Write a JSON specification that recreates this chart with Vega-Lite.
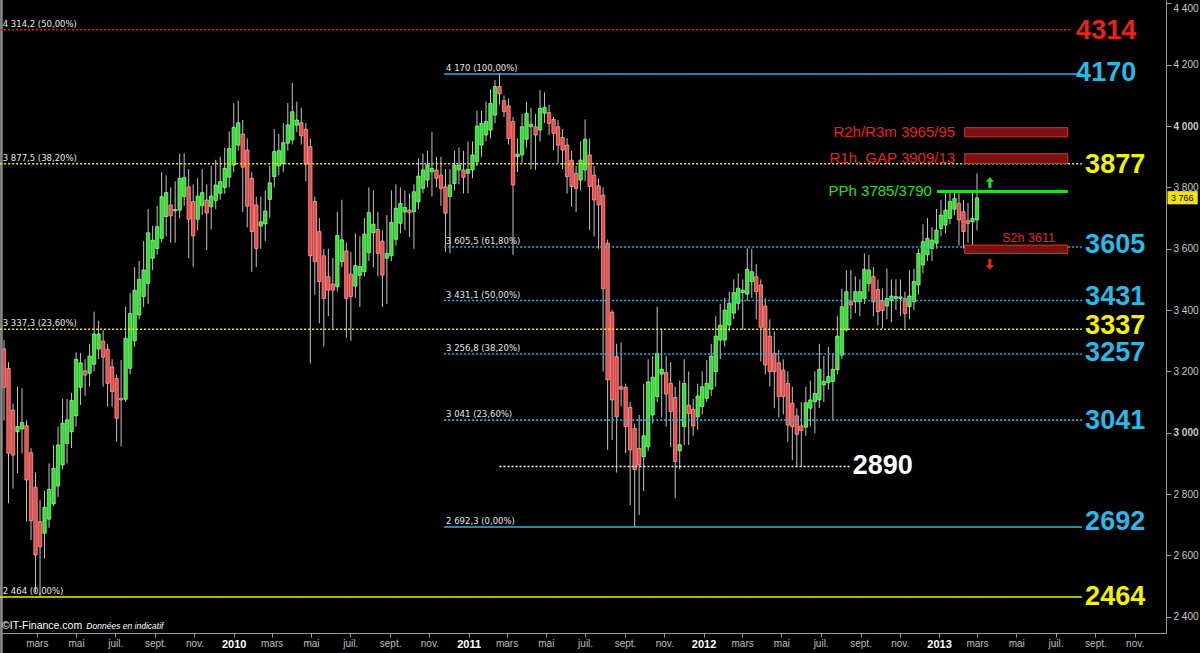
{
"$schema": "https://vega.github.io/schema/vega-lite/v6.json",
"width": 1166, "height": 633,
"autosize": {"type": "none"},
"padding": {"left": 0, "top": 0, "right": 34, "bottom": 20},
"background": "#000000",
"config": {"view": {"stroke": null}, "font": "Liberation Sans"},
"datasets": {
"candles": [
{"d":"2009-01-09","o":3273,"h":3302,"l":3040,"c":3148},
{"d":"2009-01-16","o":3210,"h":3230,"l":2770,"c":2933},
{"d":"2009-01-23","o":3074,"h":3096,"l":2818,"c":2927},
{"d":"2009-01-30","o":3003,"h":3150,"l":2868,"c":3020},
{"d":"2009-02-06","o":3012,"h":3145,"l":2933,"c":3033},
{"d":"2009-02-13","o":3023,"h":3040,"l":2710,"c":2846},
{"d":"2009-02-20","o":2935,"h":2950,"l":2650,"c":2713},
{"d":"2009-02-27","o":2822,"h":2870,"l":2480,"c":2601},
{"d":"2009-03-06","o":2710,"h":2780,"l":2465,"c":2628},
{"d":"2009-03-13","o":2672,"h":2810,"l":2590,"c":2757},
{"d":"2009-03-20","o":2718,"h":2900,"l":2690,"c":2815},
{"d":"2009-03-27","o":2768,"h":2960,"l":2760,"c":2884},
{"d":"2009-04-03","o":2826,"h":3020,"l":2790,"c":2960},
{"d":"2009-04-10","o":2895,"h":3110,"l":2880,"c":3031},
{"d":"2009-04-17","o":2965,"h":3110,"l":2900,"c":3042},
{"d":"2009-04-24","o":3003,"h":3130,"l":2950,"c":3105},
{"d":"2009-05-01","o":3055,"h":3262,"l":3020,"c":3239},
{"d":"2009-05-08","o":3148,"h":3260,"l":3090,"c":3228},
{"d":"2009-05-15","o":3202,"h":3240,"l":3120,"c":3188},
{"d":"2009-05-22","o":3194,"h":3290,"l":3150,"c":3250},
{"d":"2009-05-29","o":3223,"h":3395,"l":3200,"c":3322},
{"d":"2009-06-05","o":3273,"h":3365,"l":3240,"c":3322},
{"d":"2009-06-12","o":3299,"h":3335,"l":3150,"c":3246},
{"d":"2009-06-19","o":3272,"h":3290,"l":3085,"c":3161},
{"d":"2009-06-26","o":3215,"h":3240,"l":3085,"c":3134},
{"d":"2009-07-03","o":3177,"h":3190,"l":2971,"c":3047},
{"d":"2009-07-10","o":3112,"h":3237,"l":2955,"c":3107},
{"d":"2009-07-17","o":3109,"h":3411,"l":3100,"c":3308},
{"d":"2009-07-24","o":3210,"h":3455,"l":3190,"c":3389},
{"d":"2009-07-31","o":3300,"h":3540,"l":3280,"c":3465},
{"d":"2009-08-07","o":3384,"h":3560,"l":3370,"c":3500},
{"d":"2009-08-14","o":3444,"h":3625,"l":3410,"c":3531},
{"d":"2009-08-21","o":3487,"h":3730,"l":3420,"c":3652},
{"d":"2009-08-28","o":3569,"h":3675,"l":3530,"c":3628},
{"d":"2009-09-04","o":3601,"h":3740,"l":3580,"c":3672},
{"d":"2009-09-11","o":3634,"h":3850,"l":3620,"c":3770},
{"d":"2009-09-18","o":3705,"h":3840,"l":3640,"c":3783},
{"d":"2009-09-25","o":3743,"h":3800,"l":3620,"c":3707},
{"d":"2009-10-02","o":3724,"h":3820,"l":3620,"c":3728},
{"d":"2009-10-09","o":3726,"h":3910,"l":3700,"c":3830},
{"d":"2009-10-16","o":3770,"h":3911,"l":3740,"c":3832},
{"d":"2009-10-23","o":3802,"h":3860,"l":3569,"c":3696},
{"d":"2009-10-30","o":3754,"h":3810,"l":3541,"c":3642},
{"d":"2009-11-06","o":3696,"h":3830,"l":3660,"c":3772},
{"d":"2009-11-13","o":3740,"h":3860,"l":3710,"c":3783},
{"d":"2009-11-20","o":3759,"h":3810,"l":3596,"c":3717},
{"d":"2009-11-27","o":3737,"h":3870,"l":3663,"c":3772},
{"d":"2009-12-04","o":3757,"h":3890,"l":3730,"c":3808},
{"d":"2009-12-11","o":3781,"h":3900,"l":3760,"c":3819},
{"d":"2009-12-18","o":3800,"h":3930,"l":3780,"c":3862},
{"d":"2009-12-25","o":3833,"h":3983,"l":3800,"c":3927},
{"d":"2010-01-01","o":3873,"h":4075,"l":3850,"c":3996},
{"d":"2010-01-08","o":3938,"h":4083,"l":3920,"c":4011},
{"d":"2010-01-15","o":3974,"h":4020,"l":3720,"c":3866},
{"d":"2010-01-22","o":3922,"h":3960,"l":3670,"c":3739},
{"d":"2010-01-29","o":3830,"h":3850,"l":3525,"c":3656},
{"d":"2010-02-05","o":3743,"h":3770,"l":3540,"c":3601},
{"d":"2010-02-12","o":3674,"h":3770,"l":3600,"c":3688},
{"d":"2010-02-19","o":3681,"h":3790,"l":3625,"c":3723},
{"d":"2010-02-26","o":3761,"h":3870,"l":3700,"c":3815},
{"d":"2010-03-05","o":3835,"h":3990,"l":3800,"c":3917},
{"d":"2010-03-12","o":3870,"h":3975,"l":3840,"c":3920},
{"d":"2010-03-19","o":3878,"h":4010,"l":3850,"c":3946},
{"d":"2010-03-26","o":3944,"h":4075,"l":3920,"c":4004},
{"d":"2010-04-02","o":3955,"h":4141,"l":3940,"c":4047},
{"d":"2010-04-09","o":4003,"h":4080,"l":3980,"c":4020},
{"d":"2010-04-16","o":4011,"h":4060,"l":3940,"c":3968},
{"d":"2010-04-23","o":3990,"h":4010,"l":3820,"c":3876},
{"d":"2010-04-30","o":3933,"h":3960,"l":3226,"c":3577},
{"d":"2010-05-07","o":3754,"h":3770,"l":3450,"c":3558},
{"d":"2010-05-14","o":3656,"h":3700,"l":3357,"c":3493},
{"d":"2010-05-21","o":3577,"h":3600,"l":3281,"c":3438},
{"d":"2010-05-28","o":3509,"h":3600,"l":3380,"c":3465},
{"d":"2010-06-04","o":3485,"h":3570,"l":3340,"c":3465},
{"d":"2010-06-11","o":3476,"h":3720,"l":3460,"c":3643},
{"d":"2010-06-18","o":3558,"h":3760,"l":3540,"c":3629},
{"d":"2010-06-25","o":3593,"h":3620,"l":3310,"c":3438},
{"d":"2010-07-02","o":3517,"h":3590,"l":3300,"c":3444},
{"d":"2010-07-09","o":3478,"h":3650,"l":3440,"c":3545},
{"d":"2010-07-16","o":3513,"h":3640,"l":3410,"c":3542},
{"d":"2010-07-23","o":3525,"h":3700,"l":3510,"c":3648},
{"d":"2010-07-30","o":3587,"h":3800,"l":3560,"c":3718},
{"d":"2010-08-06","o":3652,"h":3790,"l":3540,"c":3680},
{"d":"2010-08-13","o":3663,"h":3720,"l":3510,"c":3585},
{"d":"2010-08-20","o":3625,"h":3660,"l":3410,"c":3514},
{"d":"2010-08-27","o":3569,"h":3710,"l":3420,"c":3585},
{"d":"2010-09-03","o":3577,"h":3790,"l":3560,"c":3686},
{"d":"2010-09-10","o":3631,"h":3810,"l":3610,"c":3732},
{"d":"2010-09-17","o":3683,"h":3800,"l":3650,"c":3748},
{"d":"2010-09-24","o":3720,"h":3790,"l":3661,"c":3735},
{"d":"2010-10-01","o":3726,"h":3780,"l":3639,"c":3717},
{"d":"2010-10-08","o":3721,"h":3810,"l":3600,"c":3786},
{"d":"2010-10-15","o":3753,"h":3895,"l":3730,"c":3837},
{"d":"2010-10-22","o":3797,"h":3910,"l":3780,"c":3857},
{"d":"2010-10-29","o":3824,"h":3920,"l":3800,"c":3873},
{"d":"2010-11-05","o":3851,"h":3980,"l":3770,"c":3862},
{"d":"2010-11-12","o":3857,"h":3900,"l":3800,"c":3830},
{"d":"2010-11-19","o":3840,"h":3900,"l":3740,"c":3797},
{"d":"2010-11-26","o":3802,"h":3860,"l":3590,"c":3716},
{"d":"2010-12-03","o":3770,"h":3860,"l":3585,"c":3808},
{"d":"2010-12-10","o":3813,"h":3920,"l":3790,"c":3873},
{"d":"2010-12-17","o":3857,"h":3930,"l":3810,"c":3873},
{"d":"2010-12-24","o":3857,"h":3920,"l":3780,"c":3833},
{"d":"2010-12-31","o":3846,"h":3950,"l":3780,"c":3859},
{"d":"2011-01-07","o":3857,"h":3950,"l":3830,"c":3906},
{"d":"2011-01-14","o":3884,"h":4050,"l":3870,"c":4000},
{"d":"2011-01-21","o":3938,"h":4050,"l":3900,"c":4009},
{"d":"2011-01-28","o":3971,"h":4080,"l":3950,"c":4015},
{"d":"2011-02-04","o":3987,"h":4120,"l":3960,"c":4074},
{"d":"2011-02-11","o":4036,"h":4150,"l":4010,"c":4129},
{"d":"2011-02-18","o":4129,"h":4170,"l":4070,"c":4105},
{"d":"2011-02-25","o":4083,"h":4100,"l":4030,"c":4047},
{"d":"2011-03-04","o":4066,"h":4090,"l":3940,"c":3960},
{"d":"2011-03-11","o":4015,"h":4030,"l":3580,"c":3808},
{"d":"2011-03-18","o":3900,"h":3960,"l":3850,"c":3909},
{"d":"2011-03-25","o":3906,"h":4040,"l":3880,"c":3998},
{"d":"2011-04-01","o":3957,"h":4080,"l":3930,"c":4042},
{"d":"2011-04-08","o":3998,"h":4060,"l":3860,"c":4006},
{"d":"2011-04-15","o":3998,"h":4040,"l":3857,"c":3971},
{"d":"2011-04-22","o":3987,"h":4118,"l":3950,"c":4058},
{"d":"2011-04-29","o":4042,"h":4110,"l":4010,"c":4061},
{"d":"2011-05-06","o":4044,"h":4070,"l":3970,"c":4009},
{"d":"2011-05-13","o":4022,"h":4030,"l":3922,"c":3976},
{"d":"2011-05-20","o":3998,"h":4020,"l":3880,"c":3938},
{"d":"2011-05-27","o":3963,"h":3990,"l":3860,"c":3922},
{"d":"2011-06-03","o":3938,"h":3960,"l":3780,"c":3835},
{"d":"2011-06-10","o":3889,"h":3920,"l":3737,"c":3803},
{"d":"2011-06-17","o":3846,"h":3870,"l":3720,"c":3797},
{"d":"2011-06-24","o":3824,"h":3950,"l":3790,"c":3889},
{"d":"2011-07-01","o":3857,"h":4022,"l":3820,"c":3957},
{"d":"2011-07-08","o":3906,"h":3960,"l":3661,"c":3803},
{"d":"2011-07-15","o":3840,"h":3870,"l":3640,"c":3759},
{"d":"2011-07-22","o":3805,"h":3830,"l":3600,"c":3743},
{"d":"2011-07-29","o":3775,"h":3800,"l":3199,"c":3470},
{"d":"2011-08-05","o":3618,"h":3630,"l":2944,"c":3172},
{"d":"2011-08-12","o":3393,"h":3400,"l":2976,"c":3107},
{"d":"2011-08-19","o":3248,"h":3290,"l":2870,"c":3052},
{"d":"2011-08-26","o":3150,"h":3294,"l":3085,"c":3142},
{"d":"2011-09-02","o":3148,"h":3160,"l":2933,"c":3020},
{"d":"2011-09-09","o":3083,"h":3100,"l":2764,"c":2944},
{"d":"2011-09-16","o":3014,"h":3030,"l":2694,"c":2880},
{"d":"2011-09-23","o":2949,"h":3058,"l":2732,"c":2895},
{"d":"2011-09-30","o":2922,"h":3160,"l":2810,"c":2990},
{"d":"2011-10-07","o":2954,"h":3240,"l":2940,"c":3166},
{"d":"2011-10-14","o":3058,"h":3250,"l":3030,"c":3181},
{"d":"2011-10-21","o":3118,"h":3411,"l":3100,"c":3259},
{"d":"2011-10-28","o":3191,"h":3340,"l":3050,"c":3207},
{"d":"2011-11-04","o":3196,"h":3250,"l":3020,"c":3126},
{"d":"2011-11-11","o":3161,"h":3230,"l":2954,"c":3069},
{"d":"2011-11-18","o":3115,"h":3150,"l":2786,"c":2906},
{"d":"2011-11-25","o":2941,"h":3170,"l":2880,"c":2961},
{"d":"2011-12-02","o":3020,"h":3240,"l":2960,"c":3161},
{"d":"2011-12-09","o":3090,"h":3200,"l":2960,"c":3063},
{"d":"2011-12-16","o":3076,"h":3110,"l":2990,"c":3022},
{"d":"2011-12-23","o":3052,"h":3160,"l":3010,"c":3120},
{"d":"2011-12-30","o":3085,"h":3200,"l":3060,"c":3150},
{"d":"2012-01-06","o":3112,"h":3237,"l":3100,"c":3161},
{"d":"2012-01-13","o":3142,"h":3290,"l":3120,"c":3250},
{"d":"2012-01-20","o":3199,"h":3380,"l":3150,"c":3315},
{"d":"2012-01-27","o":3302,"h":3420,"l":3240,"c":3351},
{"d":"2012-02-03","o":3302,"h":3440,"l":3280,"c":3400},
{"d":"2012-02-10","o":3351,"h":3460,"l":3330,"c":3422},
{"d":"2012-02-17","o":3390,"h":3500,"l":3370,"c":3457},
{"d":"2012-02-24","o":3422,"h":3520,"l":3400,"c":3471},
{"d":"2012-03-02","o":3457,"h":3500,"l":3335,"c":3465},
{"d":"2012-03-09","o":3452,"h":3601,"l":3430,"c":3533},
{"d":"2012-03-16","o":3493,"h":3600,"l":3440,"c":3525},
{"d":"2012-03-23","o":3509,"h":3550,"l":3370,"c":3460},
{"d":"2012-03-30","o":3482,"h":3500,"l":3232,"c":3344},
{"d":"2012-04-06","o":3413,"h":3440,"l":3190,"c":3221},
{"d":"2012-04-13","o":3315,"h":3370,"l":3150,"c":3199},
{"d":"2012-04-20","o":3259,"h":3330,"l":3080,"c":3199},
{"d":"2012-04-27","o":3228,"h":3270,"l":3050,"c":3118},
{"d":"2012-05-04","o":3204,"h":3240,"l":3060,"c":3118},
{"d":"2012-05-11","o":3161,"h":3200,"l":2970,"c":3025},
{"d":"2012-05-18","o":3096,"h":3150,"l":2910,"c":3020},
{"d":"2012-05-25","o":3055,"h":3080,"l":2890,"c":2995},
{"d":"2012-06-01","o":3022,"h":3100,"l":2889,"c":3007},
{"d":"2012-06-08","o":3018,"h":3150,"l":2990,"c":3098},
{"d":"2012-06-15","o":3080,"h":3170,"l":3020,"c":3107},
{"d":"2012-06-22","o":3101,"h":3200,"l":2998,"c":3128},
{"d":"2012-06-29","o":3107,"h":3290,"l":3080,"c":3207},
{"d":"2012-07-06","o":3156,"h":3250,"l":3100,"c":3167},
{"d":"2012-07-13","o":3163,"h":3280,"l":3140,"c":3183},
{"d":"2012-07-20","o":3167,"h":3260,"l":3041,"c":3207},
{"d":"2012-07-27","o":3205,"h":3380,"l":3190,"c":3315},
{"d":"2012-08-03","o":3253,"h":3470,"l":3240,"c":3411},
{"d":"2012-08-10","o":3335,"h":3530,"l":3330,"c":3460},
{"d":"2012-08-17","o":3427,"h":3530,"l":3370,"c":3417},
{"d":"2012-08-24","o":3427,"h":3510,"l":3390,"c":3460},
{"d":"2012-08-31","o":3427,"h":3500,"l":3380,"c":3460},
{"d":"2012-09-07","o":3438,"h":3585,"l":3420,"c":3533},
{"d":"2012-09-14","o":3487,"h":3580,"l":3460,"c":3531},
{"d":"2012-09-21","o":3509,"h":3540,"l":3380,"c":3427},
{"d":"2012-09-28","o":3467,"h":3500,"l":3350,"c":3395},
{"d":"2012-10-05","o":3430,"h":3470,"l":3340,"c":3398},
{"d":"2012-10-12","o":3413,"h":3536,"l":3370,"c":3438},
{"d":"2012-10-19","o":3431,"h":3500,"l":3360,"c":3446},
{"d":"2012-10-26","o":3438,"h":3500,"l":3400,"c":3444},
{"d":"2012-11-02","o":3438,"h":3500,"l":3380,"c":3443},
{"d":"2012-11-09","o":3438,"h":3460,"l":3340,"c":3389},
{"d":"2012-11-16","o":3411,"h":3530,"l":3370,"c":3446},
{"d":"2012-11-23","o":3427,"h":3535,"l":3400,"c":3493},
{"d":"2012-11-30","o":3482,"h":3600,"l":3450,"c":3585},
{"d":"2012-12-07","o":3547,"h":3680,"l":3520,"c":3623},
{"d":"2012-12-14","o":3580,"h":3700,"l":3560,"c":3634},
{"d":"2012-12-21","o":3601,"h":3670,"l":3560,"c":3628},
{"d":"2012-12-28","o":3618,"h":3730,"l":3600,"c":3661},
{"d":"2013-01-04","o":3666,"h":3760,"l":3640,"c":3710},
{"d":"2013-01-11","o":3677,"h":3790,"l":3650,"c":3726},
{"d":"2013-01-18","o":3699,"h":3790,"l":3680,"c":3754},
{"d":"2013-01-25","o":3729,"h":3785,"l":3710,"c":3764},
{"d":"2013-02-01","o":3748,"h":3790,"l":3610,"c":3694},
{"d":"2013-02-08","o":3721,"h":3760,"l":3601,"c":3656},
{"d":"2013-02-15","o":3692,"h":3750,"l":3620,"c":3683},
{"d":"2013-02-22","o":3688,"h":3786,"l":3590,"c":3699},
{"d":"2013-03-01","o":3694,"h":3846,"l":3660,"c":3766}
],
"levels": [
{"lvl":4314.2,"from":"2009-01-03","to":"2013-07-23","g":"ext","k":"dot"},
{"lvl":4170,"from":"2010-11-24","to":"2013-08-11","g":"fib11","k":"solid"},
{"lvl":3877.5,"from":"2009-01-03","to":"2013-08-11","g":"fib09","k":"dot"},
{"lvl":3605.5,"from":"2010-11-24","to":"2013-08-11","g":"fib11","k":"dot"},
{"lvl":3431.1,"from":"2010-11-24","to":"2013-08-11","g":"fib11","k":"dot"},
{"lvl":3337.3,"from":"2009-01-03","to":"2013-08-11","g":"fib09","k":"dot"},
{"lvl":3256.8,"from":"2010-11-24","to":"2013-08-11","g":"fib11","k":"dot"},
{"lvl":3041,"from":"2010-11-24","to":"2013-08-11","g":"fib11","k":"dot"},
{"lvl":2890,"from":"2011-02-18","to":"2012-08-15","g":"sup","k":"dot"},
{"lvl":2692.3,"from":"2010-11-24","to":"2013-08-11","g":"fib11","k":"solid"},
{"lvl":2464,"from":"2009-01-03","to":"2013-08-11","g":"fib09","k":"solid"}
],
"fibLabels": [
{"t":"4 314,2 (50,00%)","d":"2009-01-07","v":4314.2},
{"t":"4 170 (100,00%)","d":"2010-11-27","v":4170},
{"t":"3 877,5 (38,20%)","d":"2009-01-07","v":3877.5},
{"t":"3 605,5 (61,80%)","d":"2010-11-27","v":3605.5},
{"t":"3 431,1 (50,00%)","d":"2010-11-27","v":3431.1},
{"t":"3 337,3 (23,60%)","d":"2009-01-07","v":3337.3},
{"t":"3 256,8 (38,20%)","d":"2010-11-27","v":3256.8},
{"t":"3 041 (23,60%)","d":"2010-11-27","v":3041},
{"t":"2 692,3 (0,00%)","d":"2010-11-27","v":2692.3},
{"t":"2 464 (0,00%)","d":"2009-01-07","v":2464}
],
"bigLabels": [
{"t":"4314","d":"2013-08-02","v":4310,"g":"ext"},
{"t":"4170","d":"2013-08-02","v":4173,"g":"fib11"},
{"t":"3877","d":"2013-08-16","v":3873,"g":"fib09"},
{"t":"3605","d":"2013-08-16","v":3612,"g":"fib11"},
{"t":"3431","d":"2013-08-16","v":3443,"g":"fib11"},
{"t":"3337","d":"2013-08-16","v":3349,"g":"fib09"},
{"t":"3257","d":"2013-08-16","v":3259,"g":"fib11"},
{"t":"3041","d":"2013-08-16","v":3038,"g":"fib11"},
{"t":"2692","d":"2013-08-16","v":2709,"g":"fib11"},
{"t":"2464","d":"2013-08-16","v":2464,"g":"fib09"},
{"t":"2890","d":"2012-08-20","v":2891,"g":"sup"}
],
"zones": [
{"z":"R2h/R3m","from":"2013-02-10","to":"2013-07-20","lo":3965,"hi":3995},
{"z":"R1h","from":"2013-02-10","to":"2013-07-20","lo":3878,"hi":3910},
{"z":"S2h","from":"2013-02-10","to":"2013-07-20","lo":3585,"hi":3612}
],
"pph": [{"from":"2012-12-29","to":"2013-07-20","v":3787}],
"notes": [
{"t":"R2h/R3m 3965/95","d":"2013-01-26","v":3982,"g":"res"},
{"t":"R1h, GAP 3909/13","d":"2013-01-26","v":3896,"g":"res"},
{"t":"PPh 3785/3790","d":"2012-12-21","v":3787,"g":"pph"}
],
"notesSmall": [
{"t":"S2h 3611","d":"2013-06-30","v":3636,"g":"res"}
],
"arrows": [
{"d":"2013-03-21","v":3816,"dir":"up"},
{"d":"2013-03-21","v":3549,"dir":"down"}
],
"tag": [{"from":"2013-12-22","to":"2014-02-07","lo":3745,"hi":3788,"mid":"2014-01-14","v":3766,"t":"3 766"}],
"frame": [{"d":"2009-01-05","lo":2281,"hi":4412}],
"credits": [{"t":"©IT-Finance.com","d":"2009-01-06","v":2368,"s":"normal"},{"t":"Données en indicatif","d":"2009-05-17","v":2368,"s":"italic"}]
},
"layer": [
{
"data": {"name": "candles"},
"mark": {"type": "rule", "color": "#c4c4c4", "strokeWidth": 1},
"encoding": {
"x": {"field": "d", "type": "temporal", "title": null,
 "scale": {"type": "utc", "padding": 0, "domain": [{"year":2009,"month":1,"date":2,"hours":18,"minutes":49,"utc":true},{"year":2013,"month":12,"date":19,"hours":16,"minutes":25,"utc":true}]},
 "axis": {"title": null, "grid": false, "domainColor": "#9a9a9a", "tickColor": "#9a9a9a", "tickSize": 4, "labelPadding": 1,
  "values": [{"year":2009,"month":3,"date":1,"utc":true},{"year":2009,"month":5,"date":1,"utc":true},{"year":2009,"month":7,"date":1,"utc":true},{"year":2009,"month":9,"date":1,"utc":true},{"year":2009,"month":11,"date":1,"utc":true},
  {"year":2010,"month":1,"date":1,"utc":true},{"year":2010,"month":3,"date":1,"utc":true},{"year":2010,"month":5,"date":1,"utc":true},{"year":2010,"month":7,"date":1,"utc":true},{"year":2010,"month":9,"date":1,"utc":true},{"year":2010,"month":11,"date":1,"utc":true},
  {"year":2011,"month":1,"date":1,"utc":true},{"year":2011,"month":3,"date":1,"utc":true},{"year":2011,"month":5,"date":1,"utc":true},{"year":2011,"month":7,"date":1,"utc":true},{"year":2011,"month":9,"date":1,"utc":true},{"year":2011,"month":11,"date":1,"utc":true},
  {"year":2012,"month":1,"date":1,"utc":true},{"year":2012,"month":3,"date":1,"utc":true},{"year":2012,"month":5,"date":1,"utc":true},{"year":2012,"month":7,"date":1,"utc":true},{"year":2012,"month":9,"date":1,"utc":true},{"year":2012,"month":11,"date":1,"utc":true},
  {"year":2013,"month":1,"date":1,"utc":true},{"year":2013,"month":3,"date":1,"utc":true},{"year":2013,"month":5,"date":1,"utc":true},{"year":2013,"month":7,"date":1,"utc":true},{"year":2013,"month":9,"date":1,"utc":true},{"year":2013,"month":11,"date":1,"utc":true}],
  "labelExpr": "utcmonth(datum.value) == 0 ? utcFormat(datum.value, '%Y') : ['janv.','févr.','mars','avr.','mai','juin','juil.','août','sept.','oct.','nov.','déc.'][utcmonth(datum.value)]",
  "labelColor": {"condition": {"test": "utcmonth(datum.value) == 0", "value": "#ffffff"}, "value": "#bdbdbd"},
  "labelFontWeight": {"condition": {"test": "utcmonth(datum.value) == 0", "value": "bold"}, "value": "normal"},
  "labelFontSize": {"condition": {"test": "utcmonth(datum.value) == 0", "value": 11}, "value": 10},
  "labelFont": "Liberation Sans"}},
"y": {"field": "l", "type": "quantitative", "title": null,
 "scale": {"domain": [2346.7, 4411.4], "nice": false, "zero": false},
 "axis": {"title": null, "orient": "right", "grid": false, "domainColor": "#9a9a9a", "tickColor": "#9a9a9a",
  "values": [2400,2500,2600,2700,2800,2900,3000,3100,3200,3300,3400,3500,3600,3700,3800,3900,4000,4100,4200,4300,4400],
  "tickSize": {"condition": {"test": "datum.value % 200 == 0", "value": 5}, "value": 3},
  "labelExpr": "datum.value % 200 == 0 ? replace(format(datum.value, ','), ',', ' ') : ''",
  "labelFlush": 6,
  "labelColor": "#c8c8c8", "labelFontSize": 10, "labelPadding": 2, "labelFont": "Liberation Sans",
  "labelFontWeight": {"condition": {"test": "datum.value % 1000 == 0", "value": "bold"}, "value": "normal"}}},
"y2": {"field": "h"}
}
},
{
"data": {"name": "candles"},
"mark": {"type": "bar", "width": 3.4, "strokeWidth": 0.7},
"encoding": {
"x": {"field": "d", "type": "temporal", "title": null},
"y": {"field": "o", "type": "quantitative", "title": null},
"y2": {"field": "c"},
"color": {"condition": {"test": "datum.c >= datum.o", "value": "#2fe02f"}, "value": "#ef4646"},
"stroke": {"condition": {"test": "datum.c >= datum.o", "value": "#a8ffa8"}, "value": "#ffb4b4"}
}
},
{
"data": {"name": "frame"},
"mark": {"type": "rule", "color": "#8a8a8a", "strokeWidth": 2.6},
"encoding": {
"x": {"field": "d", "type": "temporal", "title": null},
"y": {"field": "lo", "type": "quantitative", "title": null},
"y2": {"field": "hi"}
}
},
{
"data": {"name": "levels"},
"mark": {"type": "rule", "strokeWidth": 1.6},
"encoding": {
"x": {"field": "from", "type": "temporal", "title": null},
"x2": {"field": "to"},
"y": {"field": "lvl", "type": "quantitative", "title": null},
"color": {"field": "g", "type": "nominal", "legend": null, "scale": {"domain": ["ext","fib11","fib09","sup"], "range": ["#e8231e","#29b8e8","#f2f200","#ffffff"]}},
"strokeDash": {"field": "k", "type": "nominal", "legend": null, "scale": {"domain": ["solid","dot"], "range": [[1,0],[2,2]]}}
}
},
{
"data": {"name": "zones"},
"mark": {"type": "rect", "fill": "#7a1212", "stroke": "#e03030", "strokeWidth": 1},
"encoding": {
"x": {"field": "from", "type": "temporal", "title": null},
"x2": {"field": "to"},
"y": {"field": "lo", "type": "quantitative", "title": null},
"y2": {"field": "hi"}
}
},
{
"data": {"name": "pph"},
"mark": {"type": "rule", "color": "#22e022", "strokeWidth": 3},
"encoding": {
"x": {"field": "from", "type": "temporal", "title": null},
"x2": {"field": "to"},
"y": {"field": "v", "type": "quantitative", "title": null}
}
},
{
"data": {"name": "fibLabels"},
"mark": {"type": "text", "align": "left", "baseline": "bottom", "dy": -1, "fontSize": 8.5, "color": "#e6e6e6", "font": "DejaVu Sans"},
"encoding": {
"x": {"field": "d", "type": "temporal", "title": null},
"y": {"field": "v", "type": "quantitative", "title": null},
"text": {"field": "t"}
}
},
{
"data": {"name": "bigLabels"},
"mark": {"type": "text", "align": "left", "baseline": "middle", "fontSize": 27, "fontWeight": "bold", "font": "Liberation Sans"},
"encoding": {
"x": {"field": "d", "type": "temporal", "title": null},
"y": {"field": "v", "type": "quantitative", "title": null},
"text": {"field": "t"},
"color": {"field": "g", "type": "nominal", "legend": null}
}
},
{
"data": {"name": "notes"},
"mark": {"type": "text", "align": "right", "baseline": "middle", "fontSize": 15, "font": "Liberation Sans"},
"encoding": {
"x": {"field": "d", "type": "temporal", "title": null},
"y": {"field": "v", "type": "quantitative", "title": null},
"text": {"field": "t"},
"color": {"condition": {"test": "datum.g == 'pph'", "value": "#22e022"}, "value": "#e8231e"}
}
},
{
"data": {"name": "notesSmall"},
"mark": {"type": "text", "align": "right", "baseline": "middle", "fontSize": 12.5, "font": "Liberation Sans", "color": "#e8231e"},
"encoding": {
"x": {"field": "d", "type": "temporal", "title": null},
"y": {"field": "v", "type": "quantitative", "title": null},
"text": {"field": "t"}
}
},
{
"data": {"name": "arrows"},
"mark": {"type": "point", "filled": true, "size": 120, "opacity": 1, "strokeWidth": 0},
"encoding": {
"x": {"field": "d", "type": "temporal", "title": null},
"y": {"field": "v", "type": "quantitative", "title": null},
"color": {"condition": {"test": "datum.dir == 'up'", "value": "#22e022"}, "value": "#ee2222"},
"shape": {"condition": {"test": "datum.dir == 'up'", "value": "M0,-1L0.75,-0.15L0.28,-0.15L0.28,1L-0.28,1L-0.28,-0.15L-0.75,-0.15Z"}, "value": "M0,1L0.75,0.15L0.28,0.15L0.28,-1L-0.28,-1L-0.28,0.15L-0.75,0.15Z"}
}
},
{
"data": {"name": "tag"},
"mark": {"type": "rect", "fill": "#f2e20a"},
"encoding": {
"x": {"field": "from", "type": "temporal", "title": null},
"x2": {"field": "to"},
"y": {"field": "lo", "type": "quantitative", "title": null},
"y2": {"field": "hi"}
}
},
{
"data": {"name": "tag"},
"mark": {"type": "text", "align": "center", "baseline": "middle", "fontSize": 9, "color": "#000000", "font": "Liberation Sans"},
"encoding": {
"x": {"field": "mid", "type": "temporal", "title": null},
"y": {"field": "v", "type": "quantitative", "title": null},
"text": {"field": "t"}
}
},
{
"data": {"name": "credits"},
"transform": [{"filter": "datum.s == 'normal'"}],
"mark": {"type": "text", "align": "left", "baseline": "middle", "fontSize": 10.5, "color": "#ffffff", "font": "Liberation Sans"},
"encoding": {
"x": {"field": "d", "type": "temporal", "title": null},
"y": {"field": "v", "type": "quantitative", "title": null},
"text": {"field": "t"}
}
},
{
"data": {"name": "credits"},
"transform": [{"filter": "datum.s == 'italic'"}],
"mark": {"type": "text", "align": "left", "baseline": "middle", "fontSize": 8.5, "fontStyle": "italic", "color": "#ffffff", "font": "Liberation Sans"},
"encoding": {
"x": {"field": "d", "type": "temporal", "title": null},
"y": {"field": "v", "type": "quantitative", "title": null},
"text": {"field": "t"}
}
}
]
}
